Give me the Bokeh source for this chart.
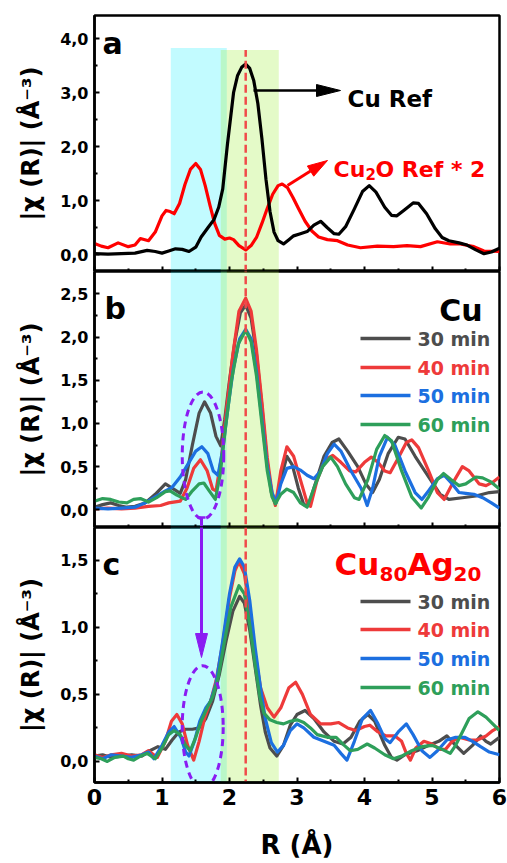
from bokeh.plotting import figure
from bokeh.layouts import column
from bokeh.models import FixedTicker, Range1d
from bokeh.core.properties import value
from bokeh.embed import file_html
from bokeh.resources import INLINE

FONT = "DejaVu Sans"

# ---------------- data ----------------
# (a) reference spectra
r_cu_ref = [0.0, 0.2, 0.4, 0.6, 0.78, 0.9, 1.0, 1.1, 1.2, 1.3, 1.4, 1.5, 1.58, 1.68, 1.77, 1.84,
            1.90, 1.97, 2.06, 2.12, 2.18, 2.24, 2.30, 2.36, 2.42, 2.48, 2.54, 2.60, 2.66, 2.72,
            2.80, 2.88, 2.95, 3.05, 3.15, 3.25, 3.35, 3.45, 3.55, 3.62, 3.72, 3.85, 3.97, 4.07,
            4.17, 4.30, 4.40, 4.48, 4.60, 4.72, 4.80, 4.92, 5.05, 5.15, 5.25, 5.40, 5.52, 5.65,
            5.77, 5.88, 6.0]
chi_cu_ref = [0.02, 0.01, 0.02, 0.03, 0.08, 0.06, 0.03, 0.07, 0.11, 0.10, 0.06, 0.14, 0.33, 0.50,
              0.65, 0.88, 1.22, 2.05, 3.00, 3.32, 3.47, 3.53, 3.45, 3.22, 2.80, 2.15, 1.40, 0.80,
              0.42, 0.26, 0.20, 0.28, 0.35, 0.39, 0.43, 0.55, 0.62, 0.50, 0.39, 0.38, 0.52, 0.85,
              1.17, 1.28, 1.16, 0.88, 0.73, 0.72, 0.84, 0.96, 0.95, 0.76, 0.48, 0.32, 0.26, 0.22,
              0.18, 0.09, 0.02, 0.05, 0.12]

r_cu2o_ref = [0.0, 0.1, 0.2, 0.35, 0.5, 0.6, 0.68, 0.8, 0.9, 1.0, 1.06, 1.12, 1.18, 1.26, 1.34,
              1.42, 1.50, 1.57, 1.64, 1.71, 1.78, 1.85, 1.93, 2.00, 2.06, 2.14, 2.24, 2.32, 2.40,
              2.48, 2.56, 2.64, 2.72, 2.78, 2.86, 2.94, 3.02, 3.12, 3.22, 3.32, 3.45, 3.60, 3.75,
              3.94, 4.19, 4.43, 4.63, 4.83, 5.08, 5.27, 5.42, 5.62, 5.77, 6.0]
chi_cu2o_ref_x2 = [0.21, 0.16, 0.13, 0.22, 0.15, 0.18, 0.30, 0.26, 0.42, 0.72, 0.82, 0.80, 0.76,
                   0.95, 1.30, 1.58, 1.69, 1.58, 1.28, 0.92, 0.58, 0.36, 0.29, 0.31, 0.28, 0.17,
                   0.09, 0.17, 0.32, 0.58, 0.86, 1.12, 1.28, 1.31, 1.24, 1.06, 0.86, 0.62, 0.44,
                   0.33, 0.28, 0.26, 0.18, 0.13, 0.16, 0.15, 0.17, 0.15, 0.24, 0.20, 0.20, 0.15,
                   0.07, 0.06]

times = ["30 min", "40 min", "50 min", "60 min"]
time_colors = ["#4d4d4d", "#ee3a3a", "#1c6fe0", "#2e9f5a"]

# (b) Cu catalyst
r_cu_30 = [0.0, 0.12, 0.24, 0.36, 0.48, 0.6, 0.75, 0.9, 1.05, 1.15, 1.27, 1.35, 1.45, 1.55, 1.63,
           1.72, 1.80, 1.87, 1.93, 2.00, 2.08, 2.16, 2.24, 2.32, 2.40, 2.48, 2.55, 2.62, 2.68,
           2.76, 2.85, 2.93, 3.02, 3.10, 3.17, 3.27, 3.40, 3.52, 3.62, 3.75, 3.90, 4.02, 4.12,
           4.22, 4.35, 4.50, 4.60, 4.75, 4.95, 5.12, 5.25, 5.45, 5.65, 5.85, 6.0]
chi_cu_30 = [0.03, 0.06, 0.08, 0.05, 0.03, 0.04, 0.08, 0.18, 0.30, 0.25, 0.19, 0.35, 0.75, 1.12,
             1.25, 1.12, 0.85, 0.74, 1.05, 1.50, 1.95, 2.28, 2.37, 2.22, 1.80, 1.20, 0.60, 0.20,
             0.07, 0.35, 0.62, 0.52, 0.25, 0.06, 0.05, 0.30, 0.62, 0.78, 0.82, 0.68, 0.50, 0.30,
             0.20, 0.35, 0.65, 0.84, 0.82, 0.62, 0.38, 0.18, 0.12, 0.14, 0.16, 0.20, 0.21]

r_cu_40 = [0.0, 0.2, 0.4, 0.6, 0.8, 0.98, 1.1, 1.27, 1.37, 1.47, 1.57, 1.67, 1.75, 1.80, 1.88,
           1.96, 2.05, 2.14, 2.24, 2.32, 2.40, 2.48, 2.56, 2.63, 2.68, 2.76, 2.85, 2.95, 3.05,
           3.15, 3.20, 3.30, 3.42, 3.53, 3.65, 3.78, 3.87, 4.00, 4.10, 4.20, 4.30, 4.38, 4.50,
           4.62, 4.70, 4.80, 4.95, 5.08, 5.18, 5.30, 5.45, 5.55, 5.70, 5.80, 5.90, 6.0]
chi_cu_40 = [0.01, 0.02, 0.01, 0.02, 0.04, 0.05, 0.08, 0.10, 0.25, 0.48, 0.58, 0.45, 0.24, 0.22,
             0.60, 1.20, 1.80, 2.30, 2.45, 2.30, 1.85, 1.25, 0.60, 0.20, 0.05, 0.45, 0.73, 0.62,
             0.35, 0.08, 0.04, 0.35, 0.58, 0.63, 0.55, 0.45, 0.44, 0.55, 0.61, 0.55, 0.45, 0.43,
             0.60, 0.78, 0.81, 0.72, 0.45, 0.20, 0.12, 0.30, 0.50, 0.45, 0.30, 0.28, 0.32, 0.38]

r_cu_50 = [0.0, 0.2, 0.4, 0.6, 0.75, 0.9, 1.05, 1.15, 1.27, 1.40, 1.50, 1.59, 1.68, 1.76, 1.83,
           1.90, 1.98, 2.06, 2.15, 2.24, 2.32, 2.40, 2.48, 2.56, 2.63, 2.69, 2.76, 2.85, 2.95,
           3.05, 3.15, 3.25, 3.35, 3.45, 3.55, 3.65, 3.80, 3.95, 4.04, 4.12, 4.22, 4.34, 4.45,
           4.60, 4.75, 4.85, 4.95, 5.08, 5.18, 5.30, 5.40, 5.50, 5.62, 5.75, 5.88, 6.0]
chi_cu_50 = [0.02, 0.01, 0.02, 0.03, 0.08, 0.15, 0.22, 0.26, 0.38, 0.55, 0.68, 0.73, 0.65, 0.45,
             0.40, 0.70, 1.20, 1.65, 1.98, 2.09, 1.98, 1.60, 1.05, 0.50, 0.20, 0.08, 0.30, 0.48,
             0.50, 0.46, 0.40, 0.36, 0.45, 0.65, 0.76, 0.68, 0.45, 0.25, 0.05, 0.25, 0.62, 0.84,
             0.75, 0.45, 0.20, 0.12, 0.22, 0.36, 0.40, 0.30, 0.20, 0.19, 0.18, 0.14, 0.08, 0.02]

r_cu_60 = [0.0, 0.12, 0.24, 0.36, 0.48, 0.58, 0.68, 0.80, 0.92, 1.05, 1.12, 1.22, 1.35, 1.45,
           1.55, 1.62, 1.70, 1.79, 1.86, 1.94, 2.03, 2.13, 2.24, 2.32, 2.40, 2.48, 2.56, 2.63,
           2.68, 2.76, 2.85, 2.95, 3.05, 3.15, 3.25, 3.38, 3.50, 3.60, 3.72, 3.85, 3.92, 4.05,
           4.18, 4.30, 4.40, 4.55, 4.70, 4.84, 4.95, 5.08, 5.17, 5.28, 5.40, 5.50, 5.65, 5.75,
           5.88, 6.0]
chi_cu_60 = [0.10, 0.13, 0.12, 0.09, 0.08, 0.12, 0.13, 0.09, 0.14, 0.21, 0.22, 0.17, 0.12, 0.22,
             0.30, 0.31, 0.22, 0.12, 0.40, 0.95, 1.50, 1.92, 2.08, 1.95, 1.55, 1.00, 0.45, 0.15,
             0.07, 0.18, 0.24, 0.20, 0.08, 0.03, 0.25, 0.50, 0.61, 0.50, 0.30, 0.14, 0.12, 0.35,
             0.70, 0.86, 0.80, 0.45, 0.15, 0.02, 0.15, 0.35, 0.42, 0.35, 0.28, 0.30, 0.38, 0.37,
             0.32, 0.24]

# (c) Cu80Ag20 catalyst
r_cuag_30 = [0.0, 0.12, 0.25, 0.4, 0.55, 0.7, 0.82, 0.94, 1.05, 1.15, 1.25, 1.35, 1.45, 1.55,
             1.65, 1.75, 1.85, 1.95, 2.05, 2.15, 2.22, 2.30, 2.38, 2.46, 2.53, 2.60, 2.70, 2.80,
             2.90, 3.00, 3.12, 3.25, 3.40, 3.55, 3.68, 3.80, 3.93, 4.05, 4.15, 4.30, 4.40, 4.48,
             4.60, 4.78, 4.95, 5.10, 5.22, 5.35, 5.47, 5.60, 5.72, 5.80, 5.87, 6.0]
chi_cuag_30 = [0.04, 0.05, 0.03, 0.04, 0.05, 0.04, 0.08, 0.11, 0.09, 0.16, 0.22, 0.24, 0.24,
               0.25, 0.32, 0.45, 0.65, 0.90, 1.12, 1.23, 1.18, 0.98, 0.70, 0.42, 0.22, 0.10,
               0.04, 0.12, 0.27, 0.35, 0.38, 0.32, 0.22, 0.15, 0.13, 0.18, 0.30, 0.35, 0.30,
               0.12, 0.03, 0.01, 0.05, 0.08, 0.12, 0.15, 0.19, 0.12, 0.06, 0.12, 0.19, 0.15,
               0.13, 0.18]

r_cuag_40 = [0.0, 0.12, 0.25, 0.4, 0.55, 0.7, 0.8, 0.93, 1.05, 1.14, 1.22, 1.30, 1.38, 1.47,
             1.55, 1.63, 1.72, 1.80, 1.90, 2.00, 2.08, 2.14, 2.22, 2.30, 2.38, 2.46, 2.56, 2.66,
             2.76, 2.88, 2.98, 3.08, 3.20, 3.35, 3.50, 3.62, 3.75, 3.87, 4.00, 4.08, 4.20, 4.32,
             4.45, 4.55, 4.62, 4.68, 4.76, 4.88, 5.00, 5.12, 5.20, 5.30, 5.40, 5.55, 5.67, 5.80,
             5.90, 6.0]
chi_cuag_40 = [0.05, 0.03, 0.05, 0.06, 0.04, 0.05, 0.08, 0.03, 0.15, 0.30, 0.35, 0.28, 0.12,
               0.01, 0.15, 0.32, 0.45, 0.60, 0.88, 1.22, 1.42, 1.49, 1.40, 1.12, 0.80, 0.55,
               0.40, 0.33, 0.40, 0.55, 0.59, 0.50, 0.35, 0.28, 0.28, 0.29, 0.25, 0.23, 0.26,
               0.27, 0.22, 0.19, 0.19, 0.15, 0.06, 0.01, 0.10, 0.15, 0.13, 0.09, 0.09, 0.15,
               0.18, 0.16, 0.16, 0.19, 0.23, 0.26]

r_cuag_50 = [0.0, 0.12, 0.25, 0.4, 0.55, 0.7, 0.8, 0.88, 1.0, 1.10, 1.18, 1.28, 1.35, 1.40,
             1.48, 1.56, 1.65, 1.72, 1.80, 1.90, 2.00, 2.08, 2.15, 2.22, 2.30, 2.38, 2.46, 2.53,
             2.62, 2.71, 2.80, 2.90, 3.00, 3.10, 3.25, 3.40, 3.55, 3.65, 3.74, 3.85, 3.97, 4.09,
             4.20, 4.30, 4.38, 4.50, 4.62, 4.72, 4.85, 4.97, 5.08, 5.22, 5.35, 5.49, 5.60, 5.72,
             5.85, 6.0]
chi_cuag_50 = [0.04, 0.02, 0.05, 0.04, 0.03, 0.05, 0.07, 0.02, 0.12, 0.22, 0.26, 0.18, 0.07,
               0.04, 0.15, 0.30, 0.40, 0.45, 0.58, 0.90, 1.25, 1.45, 1.51, 1.45, 1.20, 0.85,
               0.55, 0.32, 0.14, 0.07, 0.12, 0.23, 0.28, 0.25, 0.18, 0.15, 0.12, 0.06, 0.01,
               0.15, 0.32, 0.38, 0.28, 0.17, 0.14, 0.22, 0.28, 0.20, 0.08, 0.03, 0.08, 0.16,
               0.18, 0.18, 0.15, 0.11, 0.07, 0.05]

r_cuag_60 = [0.0, 0.10, 0.19, 0.30, 0.43, 0.50, 0.58, 0.68, 0.78, 0.90, 1.00, 1.10, 1.18, 1.27,
             1.35, 1.42, 1.50, 1.58, 1.67, 1.75, 1.83, 1.92, 2.02, 2.14, 2.22, 2.30, 2.38, 2.45,
             2.51, 2.60, 2.70, 2.80, 2.90, 3.00, 3.10, 3.20, 3.30, 3.45, 3.58, 3.70, 3.79, 3.90,
             4.04, 4.15, 4.30, 4.43, 4.55, 4.70, 4.85, 5.00, 5.15, 5.27, 5.35, 5.45, 5.55, 5.68,
             5.80, 5.90, 6.0]
chi_cuag_60 = [0.03, 0.02, 0.00, 0.03, 0.04, 0.02, 0.01, 0.04, 0.06, 0.02, 0.10, 0.20, 0.23,
               0.20, 0.12, 0.08, 0.18, 0.30, 0.40, 0.48, 0.62, 0.88, 1.15, 1.31, 1.25, 1.02,
               0.72, 0.48, 0.36, 0.31, 0.29, 0.28, 0.30, 0.31, 0.29, 0.25, 0.20, 0.18, 0.18,
               0.12, 0.08, 0.09, 0.13, 0.10, 0.05, 0.02, 0.04, 0.08, 0.11, 0.12, 0.09, 0.06,
               0.12, 0.22, 0.32, 0.37, 0.33, 0.28, 0.23]

cu_series = [(r_cu_30, chi_cu_30), (r_cu_40, chi_cu_40), (r_cu_50, chi_cu_50), (r_cu_60, chi_cu_60)]
cuag_series = [(r_cuag_30, chi_cuag_30), (r_cuag_40, chi_cuag_40),
               (r_cuag_50, chi_cuag_50), (r_cuag_60, chi_cuag_60)]

# highlighted R windows and Cu-Cu peak position
band_first_shell = (1.13, 1.96)
band_cu_cu = (1.87, 2.73)
r_cu_cu_peak = 2.24

r_ticks = [0, 1, 2, 3, 4, 5, 6]
r_minor = [0.5, 1.5, 2.5, 3.5, 4.5, 5.5]

# ---------------- layout (pixels) ----------------
LEFT, FRAME_W, RIGHT = 94, 405, 8
PURPLE = "#8a1cf2"
DASH_RED = "#f04a4a"


class Frame:
    """Pixel <-> data helper for one panel frame."""

    def __init__(self, top, height, y0, y1):
        self.top, self.height, self.y0, self.y1 = top, height, y0, y1

    def x(self, px):
        return (px - LEFT) * 6.0 / FRAME_W

    def y(self, py):
        return self.y1 - (py - self.top) * (self.y1 - self.y0) / self.height


def make_panel(fr, top_border, bottom_border, yticks, yminor, show_x_labels):
    p = figure(frame_width=FRAME_W, frame_height=fr.height,
               min_border_left=LEFT, min_border_right=RIGHT,
               min_border_top=top_border, min_border_bottom=bottom_border,
               x_range=Range1d(0, 6), y_range=Range1d(fr.y0, fr.y1),
               output_backend="svg", toolbar_location=None)
    p.grid.visible = False
    p.background_fill_color = "white"
    p.border_fill_color = "white"
    p.outline_line_color = "black"
    p.outline_line_width = 2.5

    xa = p.xaxis[0]
    xa.ticker = FixedTicker(ticks=r_ticks, minor_ticks=r_minor)
    xa.axis_line_width = 2.5
    xa.major_tick_in, xa.major_tick_out = 5, 0
    xa.minor_tick_in, xa.minor_tick_out = 3, 0
    xa.major_tick_line_width = 2
    xa.minor_tick_line_width = 2
    if show_x_labels:
        xa.major_label_text_font = FONT
        xa.major_label_text_font_style = "bold"
        xa.major_label_text_font_size = "22px"
        xa.major_label_text_color = "black"
        xa.major_label_standoff = 6
        xa.axis_label = "R (Å)"
        xa.axis_label_text_font = FONT
        xa.axis_label_text_font_style = "bold"
        xa.axis_label_text_font_size = "26px"
        xa.axis_label_text_color = "black"
        xa.axis_label_standoff = 22
    else:
        # tick marks only: the shared R scale is labelled on the bottom panel
        xa.major_label_text_color = None
        xa.major_label_text_font_size = "1px"
        xa.major_label_standoff = 0

    ya = p.yaxis[0]
    ya.ticker = FixedTicker(ticks=yticks, minor_ticks=yminor)
    ya.major_label_overrides = {t: f"{t:.1f}".replace(".", ",") for t in yticks}
    ya.axis_line_width = 2.5
    ya.major_tick_in, ya.major_tick_out = 5, 0
    ya.minor_tick_in, ya.minor_tick_out = 3, 0
    ya.major_tick_line_width = 2
    ya.minor_tick_line_width = 2
    ya.major_label_text_font = FONT
    ya.major_label_text_font_style = "bold"
    ya.major_label_text_font_size = "16px"
    ya.major_label_text_color = "black"
    ya.major_label_standoff = 6
    ya.axis_label = "|χ (R)| (Å⁻³)"
    ya.axis_label_text_font = FONT
    ya.axis_label_text_font_style = "bold"
    ya.axis_label_text_font_size = "24px"
    ya.axis_label_text_color = "black"
    ya.axis_label_standoff = 12
    return p


def shade(p, top_first, top_second, bottom):
    p.quad(left=[band_first_shell[0]], right=[band_first_shell[1]], bottom=[bottom], top=[top_first],
           fill_color="#00eeff", fill_alpha=0.24, line_color=None)
    p.quad(left=[band_cu_cu[0]], right=[band_cu_cu[1]], bottom=[bottom], top=[top_second],
           fill_color="#a6f04a", fill_alpha=0.30, line_color=None)


def label(p, x, y, txt, size, color="black", align="left"):
    p.text(x=[x], y=[y], text=[txt], text_font=value(FONT), text_font_style="bold",
           text_font_size=size, text_color=color, text_align=align, text_baseline="alphabetic")


def arrow(p, fr, start, tip, color, head_len, half_w, width):
    import math
    dx, dy = tip[0] - start[0], tip[1] - start[1]
    n = math.hypot(dx, dy)
    ux, uy = dx / n, dy / n
    bx, by = tip[0] - head_len * ux, tip[1] - head_len * uy
    px_, py_ = -uy, ux
    p.line([fr.x(start[0]), fr.x(bx)], [fr.y(start[1]), fr.y(by)], line_color=color, line_width=width)
    p.patch([fr.x(tip[0]), fr.x(bx + half_w * px_), fr.x(bx - half_w * px_)],
            [fr.y(tip[1]), fr.y(by + half_w * py_), fr.y(by - half_w * py_)],
            fill_color=color, line_color=color, line_width=1)


def time_legend(p, fr, rows_py, size="19px"):
    for name, col, py in zip(times, time_colors, rows_py):
        p.line([fr.x(360), fr.x(410)], [fr.y(py), fr.y(py)], line_color=col, line_width=3.5)
        p.text(x=[fr.x(417)], y=[fr.y(py)], text=[name], text_font=value(FONT),
               text_font_style="bold", text_font_size=size, text_color=col,
               text_align="left", text_baseline="middle")


LINE_W = 3.2

# ---------------- panel a ----------------
fa = Frame(15, 256, -0.31, 4.43)
pa = make_panel(fa, 15, 0, [0, 1, 2, 3, 4], [0.5, 1.5, 2.5, 3.5], False)
shade(pa, 3.83, 3.79, -1)
pa.line(r_cu2o_ref, chi_cu2o_ref_x2, line_color="#ff0000", line_width=LINE_W, line_join="round")
pa.line(r_cu_ref, chi_cu_ref, line_color="black", line_width=LINE_W, line_join="round")
pa.line([r_cu_cu_peak, r_cu_cu_peak], [-1, 3.79], line_color=DASH_RED, line_width=2.5, line_dash="8 4")
arrow(pa, fa, (253, 90), (340, 90), "black", 24, 6, 2.5)
arrow(pa, fa, (287, 185), (327, 160), "#ff0000", 20, 6, 3)
label(pa, fa.x(347), fa.y(98), "Cu Ref", "23px")
label(pa, fa.x(333), fa.y(168.5), "Cu", "22px", "#ff0000")
label(pa, fa.x(365), fa.y(173), "2", "15px", "#ff0000")
label(pa, fa.x(375), fa.y(168.5), "O Ref * 2", "22px", "#ff0000")
label(pa, fa.x(102), fa.y(43), "a", "30px")

# ---------------- panel b ----------------
fb = Frame(271, 256, -0.205, 2.76)
pb = make_panel(fb, 0, 0, [0, 0.5, 1.0, 1.5, 2.0, 2.5], [0.25, 0.75, 1.25, 1.75, 2.25], False)
shade(pb, 10, 10, -1)
for (rr, cc), col in zip(cu_series, time_colors):
    pb.line(rr, cc, line_color=col, line_width=LINE_W, line_join="round")
pb.line([r_cu_cu_peak, r_cu_cu_peak], [-1, 10], line_color=DASH_RED, line_width=2.5, line_dash="8 4")
pb.ellipse(x=[fb.x(202.5)], y=[fb.y(455)], width=[41.5 * 6 / FRAME_W],
           height=[127 * (fb.y1 - fb.y0) / fb.height],
           fill_color=None, line_color=PURPLE, line_width=3, line_dash="7 5")
pb.line([fb.x(201), fb.x(201)], [fb.y(517), fb.y(540)], line_color=PURPLE, line_width=3)
pb.line([fb.x(197), fb.x(205)], [fb.y(517), fb.y(517)], line_color=PURPLE, line_width=2.5)
time_legend(pb, fb, [338, 367, 395, 424])
label(pb, fb.x(482), fb.y(310), "Cu", "30px", align="right")
label(pb, fb.x(104), fb.y(308), "b", "30px")

# ---------------- panel c ----------------
fc = Frame(527, 255, -0.157, 1.744)
pc = make_panel(fc, 0, 81, [0, 0.5, 1.0, 1.5], [0.25, 0.75, 1.25], True)
shade(pc, 10, 10, -1)
for (rr, cc), col in zip(cuag_series, time_colors):
    pc.line(rr, cc, line_color=col, line_width=LINE_W, line_join="round")
pc.line([r_cu_cu_peak, r_cu_cu_peak], [-1, 10], line_color=DASH_RED, line_width=2.5, line_dash="8 4")
pc.ellipse(x=[fc.x(202.2)], y=[fc.y(726.7)], width=[41 * 6 / FRAME_W],
           height=[123 * (fc.y1 - fc.y0) / fc.height],
           fill_color=None, line_color=PURPLE, line_width=3, line_dash="7 5")
arrow(pc, fc, (201, 500), (201, 657), PURPLE, 24, 6, 3)
time_legend(pc, fc, [601, 629, 658, 687])
label(pc, fc.x(334), fc.y(563.5), "Cu", "31px", "#ff0000")
label(pc, fc.x(379), fc.y(573), "80", "20px", "#ff0000")
label(pc, fc.x(407), fc.y(563.5), "Ag", "31px", "#ff0000")
label(pc, fc.x(453), fc.y(573), "20", "20px", "#ff0000")
label(pc, fc.x(102), fc.y(563.5), "c", "30px")

layout = column(pa, pb, pc, spacing=0)
open("out.html", "w").write(file_html(layout, INLINE))
